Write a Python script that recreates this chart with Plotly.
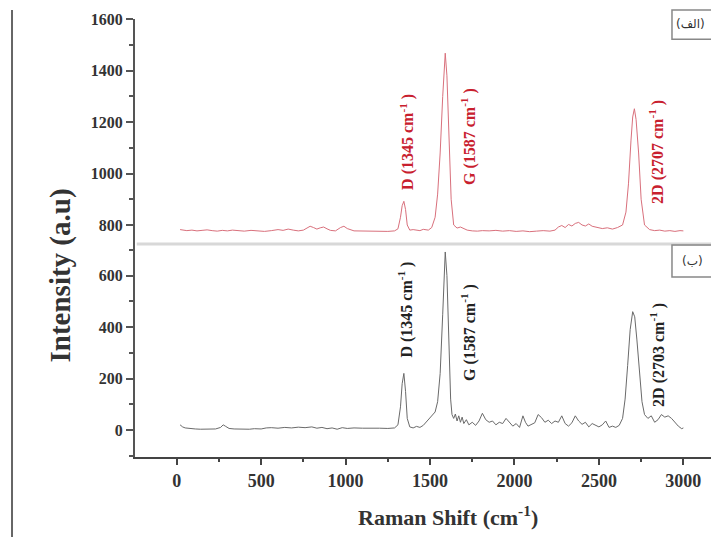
import plotly.graph_objects as go

# ---------------- data ----------------
# Spectrum (الف) - top panel
wn_a = [20, 40, 60, 90, 120, 150, 180, 210, 240, 270, 300, 330, 360, 400, 440, 480, 520, 560, 600, 630,
        660, 690, 720, 750, 770, 790, 810, 830, 850, 870, 890, 910, 940, 970, 990, 1010, 1050, 1100, 1150, 1200,
        1250, 1290, 1310, 1325, 1335, 1345, 1355, 1365, 1380, 1400, 1420, 1440, 1460, 1490, 1510, 1530, 1545,
        1560, 1575, 1590, 1600, 1612, 1625, 1640, 1660, 1680, 1700, 1720, 1750, 1780, 1810, 1850, 1890, 1930,
        1970, 2010, 2050, 2090, 2130, 2170, 2210, 2240, 2260, 2280, 2300, 2320, 2340, 2360, 2380, 2400, 2420,
        2440, 2460, 2490, 2520, 2550, 2580, 2610, 2640, 2660, 2675, 2690, 2700, 2710, 2720, 2735, 2750, 2770,
        2800, 2830, 2860, 2890, 2920, 2950, 2980, 3000]
int_a = [782, 780, 778, 780, 777, 779, 781, 778, 776, 779, 777, 780, 778, 776, 779, 777, 775, 778, 782, 779,
         784, 780, 777, 780, 786, 795, 790, 784, 789, 792, 785, 779, 777, 790, 795, 786, 777, 776, 777, 776,
         775, 777, 785, 830, 875, 892, 860, 800, 780, 782, 779, 778, 783, 780, 790, 830, 920,
         1080, 1300, 1468, 1380, 1150, 900, 800, 788, 792, 786, 780, 777, 776, 778, 777, 779, 776,
         778, 775, 777, 774, 776, 778, 776, 780, 792, 798, 790, 802, 796, 806, 810, 800, 796,
         804, 795, 790, 786, 789, 784, 790, 800, 850, 960, 1130, 1220, 1252, 1210, 1080, 900, 800,
         782, 778, 780, 776, 778, 775, 778, 777]

# Spectrum (ب) - bottom panel
wn_b = [20, 35, 50, 80, 110, 140, 170, 200, 230, 260, 275, 290, 310, 340, 370, 400, 430, 460, 500, 530,
        560, 600, 640, 680, 720, 760, 800, 830, 860, 890, 920, 950, 980, 1010, 1050, 1100, 1150, 1200, 1250,
        1290, 1310, 1325, 1335, 1345, 1355, 1365, 1380, 1400, 1420, 1440, 1460, 1490, 1510, 1530, 1545, 1560,
        1575, 1590, 1600, 1612, 1622, 1630, 1640, 1650, 1660, 1670, 1680, 1690, 1700, 1715, 1730, 1750, 1770,
        1790, 1810, 1830, 1850, 1870, 1890, 1910, 1930, 1950, 1970, 1990, 2010, 2030, 2050, 2065, 2080, 2100,
        2120, 2140, 2160, 2180, 2200, 2220, 2240, 2260, 2280, 2300, 2320, 2340, 2360, 2380, 2400, 2420, 2440,
        2460, 2480, 2500, 2520, 2540, 2560, 2580, 2600, 2620, 2640, 2655, 2670, 2685, 2700, 2712, 2725, 2740,
        2755, 2770, 2790, 2810, 2830, 2850, 2870, 2890, 2910, 2930, 2950, 2970, 2990, 3000]
int_b = [20, 12, 8, 5, 4, 3, 4, 5, 4, 10, 20, 14, 6, 4, 3, 4, 3, 5, 4, 8,
         9, 7, 10, 8, 11, 9, 12, 7, 10, 5, 8, 3, 9, 6, 8, 7, 8, 7, 6,
         8, 20, 90, 180, 220, 150, 45, 12, 8, 14, 10, 18, 40, 55, 70, 110, 220,
         450, 692, 600, 330, 120, 60, 45, 62, 35, 55, 30, 50, 25, 40, 20, 30, 18,
         35, 65, 40, 30, 35, 20, 30, 25, 45, 30, 15, 25, 10, 55, 30, 15, 20,
         28, 60, 48, 30, 38, 25, 35, 30, 55, 25, 15, 28, 55, 35, 22, 30, 12,
         25, 18, 12, 20, 35, 10, 15, 10, 18, 45, 120, 250, 390, 460, 440, 350, 220,
         110, 60, 45, 55, 30, 40, 60, 50, 55, 45, 30, 15, 5, 8]

peak_labels_a = ["D (1345 cm<sup>-1</sup> )", "G (1587 cm<sup>-1</sup> )", "2D (2707 cm<sup>-1</sup> )"]
peak_pos_a = [(1362, 1122), (1725, 1142), (2842, 1083)]
peak_labels_b = ["D (1345 cm<sup>-1</sup> )", "G (1587 cm<sup>-1</sup> )", "2D (2703 cm<sup>-1</sup> )"]
peak_pos_b = [(1356, 467), (1725, 377), (2850, 292)]

panel_labels = ["\u200e(الف)\u200e", "\u200e(ب)\u200e"]

# ---------------- figure ----------------
SERIF = "Liberation Serif, Times New Roman, serif"
split = 0.4863

fig = go.Figure()
fig.add_trace(go.Scatter(x=wn_b, y=int_b, mode="lines", line=dict(color="#6a6a6a", width=1),
                         xaxis="x", yaxis="y", showlegend=False))
fig.add_trace(go.Scatter(x=wn_a, y=int_a, mode="lines", line=dict(color="#d9707c", width=1),
                         xaxis="x", yaxis="y2", showlegend=False))

ytickfont = dict(family=SERIF, size=16, color="#333333", weight="bold")

fig.update_layout(
    width=711, height=529,
    margin=dict(l=127, r=0, t=11, b=80, autoexpand=False),
    paper_bgcolor="white", plot_bgcolor="white",
    xaxis=dict(range=[-247, 3211], anchor="y", dtick=500, tick0=0, ticks="outside", ticklen=6,
               tickwidth=1.5, tickcolor="#444", showline=True, linecolor="#444", linewidth=2,
               showgrid=False, zeroline=False,
               tickfont=dict(family=SERIF, size=18, color="#333333", weight="bold"),
               minor=dict(dtick=250, tick0=0, ticks="outside", ticklen=3, tickcolor="#444")),
    yaxis=dict(domain=[0, split], range=[-105, 723], anchor="x", dtick=200, tick0=0, ticks="outside",
               ticklen=7, tickwidth=1.5, tickcolor="#555", showline=True, linecolor="#555", linewidth=2,
               showgrid=False, zeroline=False, tickfont=ytickfont,
               minor=dict(dtick=100, tick0=0, ticks="outside", ticklen=4, tickcolor="#555")),
    yaxis2=dict(domain=[split, 1], range=[726, 1601], anchor="x", dtick=200, tick0=0, ticks="outside",
                ticklen=7, tickwidth=1.5, tickcolor="#555", showline=True, linecolor="#555", linewidth=2,
                showgrid=False, zeroline=False, tickfont=ytickfont,
                minor=dict(dtick=100, tick0=0, ticks="outside", ticklen=4, tickcolor="#555")),
)

annotations = []
for txt, (px, py) in zip(peak_labels_a, peak_pos_a):
    annotations.append(dict(x=px, y=py, xref="x", yref="y2", text="<b>" + txt + "</b>", textangle=-90,
                            xanchor="center", yanchor="middle", showarrow=False,
                            font=dict(family=SERIF, size=16, color="#c8202e")))
for txt, (px, py) in zip(peak_labels_b, peak_pos_b):
    annotations.append(dict(x=px, y=py, xref="x", yref="y", text="<b>" + txt + "</b>", textangle=-90,
                            xanchor="center", yanchor="middle", showarrow=False,
                            font=dict(family=SERIF, size=16, color="#222222")))

# axis titles
annotations.append(dict(x=0.536, y=-0.135, xref="paper", yref="paper", showarrow=False,
                        xanchor="center", yanchor="middle",
                        text="<b>Raman Shift (cm<sup>-1</sup>)</b>",
                        font=dict(family=SERIF, size=22, color="#333333")))
annotations.append(dict(x=-0.128, y=0.415, xref="paper", yref="paper", showarrow=False, textangle=-90,
                        xanchor="center", yanchor="middle",
                        text="<b>Intensity (a.u)</b>", font=dict(family=SERIF, size=29, color="#333333")))

# panel labels
annotations.append(dict(x=0.952, y=0.9886, xref="paper", yref="paper", showarrow=False,
                        xanchor="center", yanchor="middle",
                        text=panel_labels[0], font=dict(family="DejaVu Sans", size=12, color="#333333")))
annotations.append(dict(x=0.955, y=0.4475, xref="paper", yref="paper", showarrow=False,
                        xanchor="center", yanchor="middle",
                        text=panel_labels[1], font=dict(family="DejaVu Sans", size=12, color="#333333")))
fig.update_layout(annotations=annotations)

shapes = [
    # separator between panels
    dict(type="line", xref="paper", yref="paper", x0=0.003, x1=1, y0=split, y1=split,
         line=dict(color="#d8d8d8", width=3)),
    # panel label boxes
    dict(type="rect", xref="paper", yref="paper", x0=0.9195, x1=1.05, y0=0.954, y1=1.0205,
         line=dict(color="#888888", width=1.5)),
    dict(type="rect", xref="paper", yref="paper", x0=0.9195, x1=1.05, y0=0.411, y1=0.484,
         line=dict(color="#888888", width=1.5)),
    # left frame line
    dict(type="line", xref="paper", yref="paper", x0=-0.2106, x1=-0.2106, y0=-0.2, y1=1.0205,
         line=dict(color="#666666", width=2)),
]
fig.update_layout(shapes=shapes)

fig.write_html("out.html")
